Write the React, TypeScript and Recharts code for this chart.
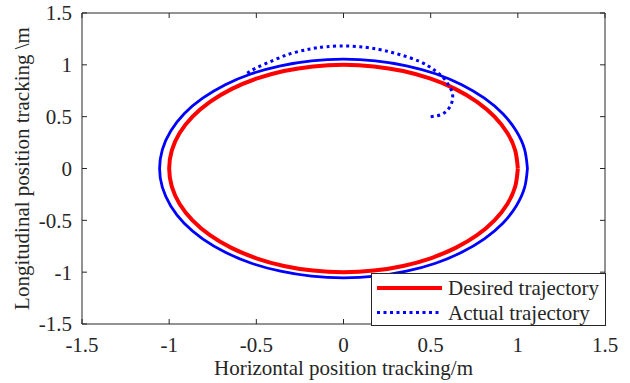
import React from 'react';
import { ComposedChart, Line, XAxis, YAxis, Legend } from 'recharts';

const FONT = "'Liberation Serif', 'Times New Roman', serif";
const AXIS_COLOR = '#262626';
const FS = 21;

const X_TICKS = [-1.5, -1, -0.5, 0, 0.5, 1, 1.5];
const Y_TICKS = [-1.5, -1, -0.5, 0, 0.5, 1, 1.5];
const LEGEND_ORDER = ['Desired trajectory', 'Actual trajectory'];

// Desired trajectory (unit circle), sampled every 10 degrees
const desiredX = [1, 0.985, 0.94, 0.866, 0.766, 0.643, 0.5, 0.342, 0.174, 0, -0.174, -0.342, -0.5, -0.643, -0.766, -0.866, -0.94, -0.985, -1, -0.985, -0.94, -0.866, -0.766, -0.643, -0.5, -0.342, -0.174, 0, 0.174, 0.342, 0.5, 0.643, 0.766, 0.866, 0.94, 0.985, 1];
const desiredY = [0, 0.174, 0.342, 0.5, 0.643, 0.766, 0.866, 0.94, 0.985, 1, 0.985, 0.94, 0.866, 0.766, 0.643, 0.5, 0.342, 0.174, 0, -0.174, -0.342, -0.5, -0.643, -0.766, -0.866, -0.94, -0.985, -1, -0.985, -0.94, -0.866, -0.766, -0.643, -0.5, -0.342, -0.174, 0];

// Actual trajectory after convergence (steady orbit)
const steadyX = [1.055, 1.039, 0.991, 0.914, 0.808, 0.678, 0.528, 0.361, 0.183, 0, -0.183, -0.361, -0.528, -0.678, -0.808, -0.914, -0.991, -1.039, -1.055, -1.039, -0.991, -0.914, -0.808, -0.678, -0.528, -0.361, -0.183, 0, 0.183, 0.361, 0.528, 0.678, 0.808, 0.914, 0.991, 1.039, 1.055];
const steadyY = [0, 0.183, 0.361, 0.528, 0.678, 0.808, 0.914, 0.991, 1.039, 1.055, 1.039, 0.991, 0.914, 0.808, 0.678, 0.528, 0.361, 0.183, 0, -0.183, -0.361, -0.528, -0.678, -0.808, -0.914, -0.991, -1.039, -1.055, -1.039, -0.991, -0.914, -0.808, -0.678, -0.528, -0.361, -0.183, 0];

// Actual trajectory transient (dotted)
const transientX = [0.5, 0.56, 0.6, 0.622, 0.625, 0.605, 0.57, 0.52, 0.44, 0.32, 0.2, 0.05, -0.1, -0.2, -0.3, -0.4, -0.5, -0.56];
const transientY = [0.5, 0.52, 0.57, 0.64, 0.72, 0.8, 0.88, 0.95, 1.03, 1.1, 1.15, 1.18, 1.175, 1.15, 1.11, 1.045, 0.97, 0.91];

const toPoints = (xs: number[], ys: number[]) => xs.map((x, i) => ({ x, y: ys[i] }));
const desiredData = toPoints(desiredX, desiredY);
const steadyData = toPoints(steadyX, steadyY);
const transientData = toPoints(transientX, transientY);

const EmptyTick = () => <g />;

const LegendBox = (props: any) => {
  const items = (props.payload || [])
    .filter((p: any) => p.type !== 'none' && LEGEND_ORDER.includes(p.value))
    .sort((a: any, b: any) => LEGEND_ORDER.indexOf(a.value) - LEGEND_ORDER.indexOf(b.value));
  return (
    <div style={{ width: 235, height: 53, boxSizing: 'border-box', border: `1px solid ${AXIS_COLOR}`, background: '#fff' }}>
      <svg width={233} height={51} style={{ display: 'block' }}>
        {items.map((it: any, i: number) => {
          const cy = 14 + i * 24.5;
          const p = it.payload || {};
          return (
            <g key={i}>
              <line x1={5} x2={70} y1={cy} y2={cy} stroke={it.color} strokeWidth={p.strokeWidth} strokeDasharray={p.strokeDasharray} />
              <text x={76} y={cy + 7} fontFamily={FONT} fontSize={FS} fill={AXIS_COLOR}>{it.value}</text>
            </g>
          );
        })}
      </svg>
    </div>
  );
};

export default function App() {
  return (
    <div style={{ position: 'absolute', left: 0, top: 0, background: '#fff' }}>
      <ComposedChart width={630} height={383} margin={{ top: 0, right: 0, bottom: 0, left: 0 }}>
        <XAxis
          xAxisId="b" type="number" dataKey="x" domain={[-1.5, 1.5]} ticks={X_TICKS} allowDataOverflow
          orientation="bottom" height={59} stroke={AXIS_COLOR} tickSize={-5} tickMargin={18.5}
          tick={{ fill: AXIS_COLOR, fontSize: FS, fontFamily: FONT }}
          label={{ value: 'Horizontal position tracking/m', position: 'insideBottom', offset: 8, fill: AXIS_COLOR, fontSize: FS, fontFamily: FONT }}
        />
        <XAxis
          xAxisId="t" type="number" dataKey="x" domain={[-1.5, 1.5]} ticks={X_TICKS} allowDataOverflow
          orientation="top" height={13} stroke={AXIS_COLOR} tickSize={-5} tick={<EmptyTick />}
        />
        <YAxis
          yAxisId="l" type="number" dataKey="y" domain={[-1.5, 1.5]} ticks={Y_TICKS} allowDataOverflow
          orientation="left" width={82} stroke={AXIS_COLOR} tickSize={-5} tickMargin={15}
          tick={{ fill: AXIS_COLOR, fontSize: FS, fontFamily: FONT }}
          label={{ value: 'Longitudinal position tracking \\m', angle: -90, position: 'insideLeft', offset: 22, fill: AXIS_COLOR, fontSize: FS, fontFamily: FONT, style: { textAnchor: 'middle' } }}
        />
        <YAxis
          yAxisId="r" type="number" dataKey="y" domain={[-1.5, 1.5]} ticks={Y_TICKS} allowDataOverflow
          orientation="right" width={25} stroke={AXIS_COLOR} tickSize={-5} tick={<EmptyTick />}
        />
        <Line
          xAxisId="b" yAxisId="l" data={desiredData} dataKey="y" name="Desired trajectory"
          type="natural" stroke="#ff0000" strokeWidth={4} dot={false} activeDot={false} isAnimationActive={false}
        />
        <Line
          xAxisId="b" yAxisId="l" data={steadyData} dataKey="y" name="steady"
          type="natural" stroke="#0000ff" strokeWidth={2.8} dot={false} activeDot={false} legendType="none" isAnimationActive={false}
        />
        <Line
          xAxisId="b" yAxisId="l" data={transientData} dataKey="y" name="Actual trajectory"
          type="natural" stroke="#0000ff" strokeWidth={3} strokeDasharray="3 3.5" dot={false} activeDot={false} isAnimationActive={false}
        />
        <Legend
          layout="vertical" align="center" verticalAlign="middle" content={<LegendBox />}
          wrapperStyle={{ position: 'absolute', left: 371, top: 273, width: 235, height: 53 }}
        />
      </ComposedChart>
    </div>
  );
}
